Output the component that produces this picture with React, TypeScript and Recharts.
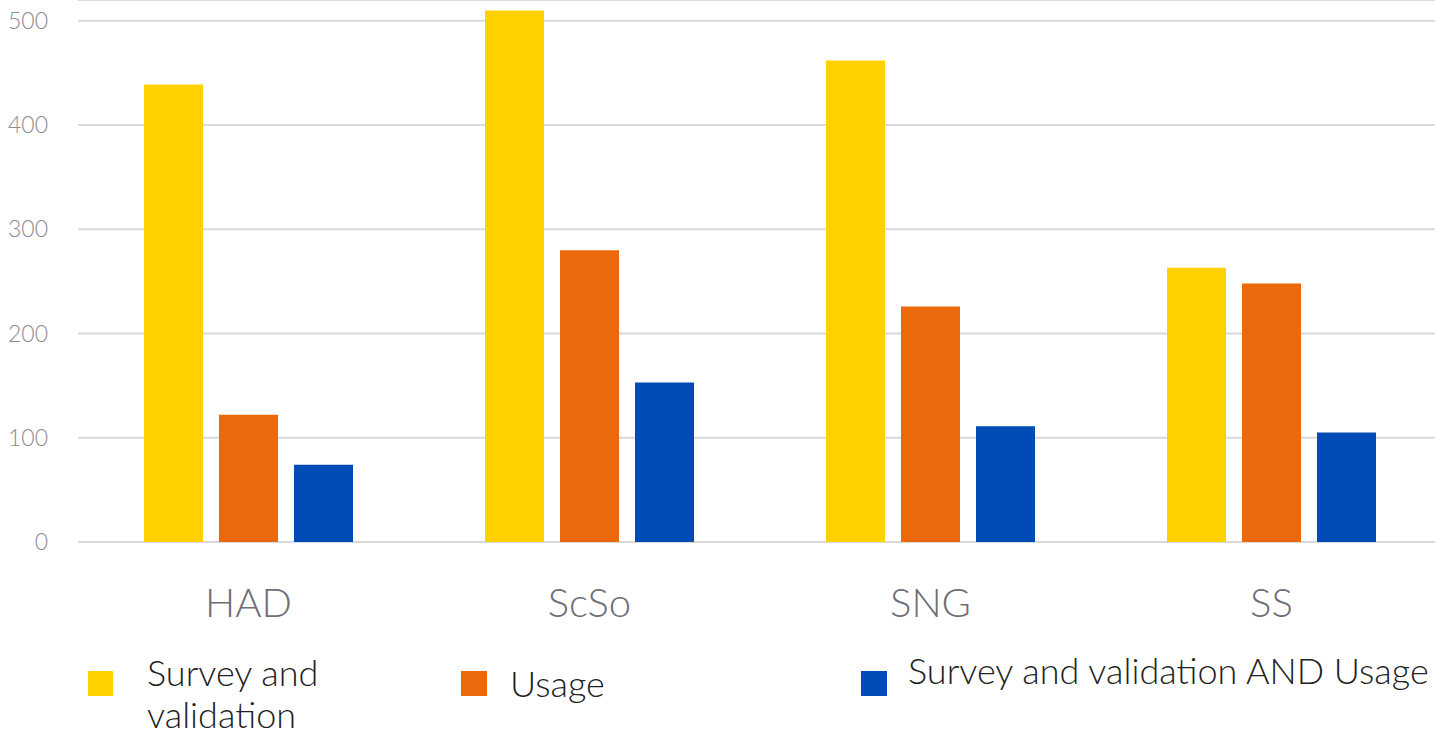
import { BarChart, Bar, XAxis, YAxis, CartesianGrid } from "recharts";

const categories = ["HAD", "ScSo", "SNG", "SS"];
const surveyValidation = [439, 510, 462, 263];
const usage = [122, 280, 226, 248];
const both = [74, 153, 111, 105];
const yTicks = [0, 100, 200, 300, 400, 500];

const data = categories.map((name, i) => ({
  name,
  survey: surveyValidation[i],
  usage: usage[i],
  both: both[i],
}));

const FONT = "Lato, 'Open Sans', sans-serif";

export default function App() {
  return (
    <div style={{ position: "absolute", left: 0, top: 0, width: 1435, height: 735, overflow: "hidden", background: "#fff", fontFamily: FONT }}>
      <BarChart
        width={1442}
        height={650}
        data={data}
        margin={{ top: 0, right: 0, bottom: 0, left: 0 }}
        barSize={59}
        barGap={16}
      >
        <CartesianGrid vertical={false} stroke="#d9d9d9" strokeWidth={2} />
        <XAxis
          dataKey="name"
          axisLine={false}
          tickLine={false}
          tickMargin={41}
          height={108}
          tick={{ fill: "#6e6e78", fontSize: 40, fontWeight: 300, fontFamily: FONT }}
        />
        <YAxis
          domain={[0, 520]}
          ticks={yTicks}
          axisLine={false}
          tickLine={false}
          width={78}
          tickMargin={24}
          tick={{ fill: "#8c8c94", fontSize: 23, fontWeight: 300, fontFamily: FONT }}
        />
        <Bar dataKey="survey" fill="#ffd100" isAnimationActive={false} />
        <Bar dataKey="usage" fill="#eb690b" isAnimationActive={false} />
        <Bar dataKey="both" fill="#004bb5" isAnimationActive={false} />
      </BarChart>
      <div style={{ position: "absolute", left: 88, top: 671, width: 25, height: 25, background: "#ffd100" }} />
      <div style={{ position: "absolute", left: 147, top: 651, width: 260, fontSize: 36, lineHeight: "42px", fontWeight: 300, color: "#222" }}>
        Survey and validation
      </div>
      <div style={{ position: "absolute", left: 461, top: 661, width: 26, height: 25, background: "#eb690b", marginTop: 10 }} />
      <div style={{ position: "absolute", left: 510, top: 661, fontSize: 36, lineHeight: "44px", fontWeight: 300, color: "#222" }}>
        Usage
      </div>
      <div style={{ position: "absolute", left: 861, top: 671, width: 26, height: 25, background: "#004bb5" }} />
      <div style={{ position: "absolute", left: 908, top: 648, fontSize: 36, lineHeight: "44px", fontWeight: 300, color: "#222", whiteSpace: "nowrap" }}>
        Survey and validation AND Usage
      </div>
    </div>
  );
}
